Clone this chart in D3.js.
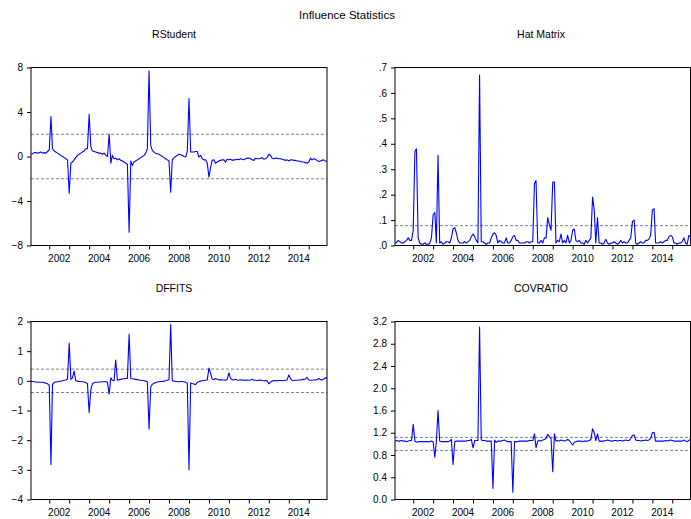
<!DOCTYPE html>
<html>
<head>
<meta charset="utf-8">
<script src="https://cdn.jsdelivr.net/npm/d3@7"></script>
<style>
  body { margin: 0; background: #fff; }
  svg { display: block; }
  text { font-family: "Liberation Sans", Arial, sans-serif; fill: #000; }
</style>
</head>
<body>
<svg id="chart" width="691" height="519"></svg>
<script>
// monthly observations, 2001M02 .. 2015M12 (179 obs), one year per row
var rstudent = [
  0.2, 0.25, 0.35, 0.35, 0.3, 0.35, 0.4, 0.3, 0.35, 0.3, 0.45,
  0.6, 3.6, 0.7, 0.5, 0.4, 0.3, 0.2, 0.1, 0.0, -0.1, -0.2, -0.3,
  -3.3, -0.6, -0.5, -0.3, -0.1, 0.1, 0.2, 0.3, 0.4, 0.5, 0.7, 0.7,
  3.8, 0.9, 0.5, 0.45, 0.4, 0.35, 0.3, 0.3, 0.2, 0.3, 0.1, 0.0,
  2.0, -0.6, 0.1, -0.2, -0.15, -0.3, -0.2, -0.35, -0.4, -0.5, -0.6, -0.7,
  -6.8, -0.4, -0.8, -0.5, -0.4, -0.3, -0.2, -0.1, 0.0, 0.1, 0.3, 0.7,
  7.7, 1.0, 0.55, 0.4, 0.3, 0.25, 0.2, 0.1, 0.0, -0.1, -0.2, -0.3,
  -0.4, -3.2, -0.3, -0.1, 0.0, 0.1, 0.2, 0.15, 0.1, 0.0, -0.05, 0.5,
  5.2, 0.4, 0.4, 0.4, 0.45, 0.45, -0.05, 0.1, -0.2, -0.3, -0.3, -0.6,
  -1.85, -0.95, -0.35, -0.3, -0.6, -0.5, -0.4, -0.35, -0.3, -0.3, -0.5, -0.25,
  -0.3, -0.25, -0.35, -0.3, -0.3, -0.25, -0.3, -0.2, -0.25, -0.3, -0.2, -0.15,
  -0.15, -0.2, -0.3, -0.35, -0.15, -0.2, -0.2, -0.15, -0.1, -0.25, -0.2, -0.1,
  0.2, 0.1, -0.15, -0.2, -0.15, -0.15, -0.2, -0.2, -0.25, -0.3, -0.35, -0.3,
  -0.4, -0.3, -0.3, -0.35, -0.35, -0.4, -0.4, -0.45, -0.5, -0.5, -0.55, -0.6,
  -0.5, -0.15, -0.3, -0.2, -0.25, -0.35, -0.45, -0.4, -0.35, -0.3, -0.4, -0.45
];

var hat = [
  0.01, 0.012, 0.02, 0.015, 0.01, 0.01, 0.015, 0.02, 0.03, 0.02, 0.02,
  0.06, 0.37, 0.38, 0.03, 0.01, 0.005, 0.005, 0.01, 0.005, 0.005, 0.01, 0.03,
  0.12, 0.13, 0.01, 0.355, 0.01, 0.015, 0.005, 0.01, 0.015, 0.015, 0.01, 0.03,
  0.065, 0.07, 0.05, 0.02, 0.01, 0.01, 0.01, 0.015, 0.01, 0.015, 0.02, 0.035,
  0.045, 0.035, 0.02, 0.01, 0.67, 0.015, 0.015, 0.01, 0.005, 0.01, 0.01, 0.03,
  0.045, 0.05, 0.04, 0.01, 0.02, 0.015, 0.01, 0.01, 0.03, 0.01, 0.01, 0.02,
  0.035, 0.04, 0.02, 0.02, 0.01, 0.01, 0.01, 0.01, 0.015, 0.015, 0.01, 0.015,
  0.015, 0.245, 0.255, 0.01, 0.01, 0.02, 0.01, 0.03, 0.03, 0.11, 0.08, 0.06,
  0.25, 0.25, 0.01, 0.02, 0.015, 0.045, 0.01, 0.02, 0.01, 0.04, 0.01, 0.02,
  0.06, 0.065, 0.02, 0.015, 0.02, 0.01, 0.01, 0.005, 0.02, 0.01, 0.02, 0.03,
  0.19, 0.14, 0.01, 0.11, 0.01, 0.01, 0.005, 0.01, 0.025, 0.01, 0.005, 0.01,
  0.01, 0.015, 0.01, 0.005, 0.01, 0.02, 0.01, 0.015, 0.01, 0.01, 0.02, 0.03,
  0.095, 0.1, 0.01, 0.005, 0.01, 0.015, 0.01, 0.01, 0.02, 0.02, 0.025, 0.04,
  0.14, 0.145, 0.01, 0.01, 0.01, 0.015, 0.01, 0.015, 0.02, 0.02, 0.035, 0.04,
  0.035, 0.01, 0.01, 0.005, 0.01, 0.01, 0.015, 0.03, 0.01, 0.005, 0.04, 0.035
];

var dffits = [
  -0.02, -0.02, -0.03, -0.04, -0.05, -0.05, -0.05, -0.05, -0.06, -0.08, -0.1,
  -0.15, -2.82, -0.12, -0.05, -0.04, -0.03, -0.02, -0.01, 0.0, 0.02, 0.03, 0.06,
  1.27, 0.05, 0.1, 0.33, 0.0, -0.01, -0.02, -0.02, -0.03, -0.04, -0.06, -0.1,
  -1.07, -0.3, -0.1, -0.06, -0.05, -0.05, -0.04, -0.04, -0.03, -0.03, -0.02, -0.05,
  -0.45, 0.1, 0.02, 0.0, 0.7, 0.02, 0.04, 0.05, 0.06, 0.07, 0.08, 0.08,
  1.58, 0.08, 0.07, 0.06, 0.05, 0.04, 0.03, 0.02, 0.01, 0.0, -0.01, -0.03,
  -1.62, -0.2, -0.12, -0.08, -0.06, -0.04, -0.03, -0.02, -0.02, -0.01, 0.0, 0.02,
  0.04, 1.9, 0.0, -0.01, -0.02, -0.02, -0.03, -0.02, -0.02, -0.03, -0.05, -0.08,
  -3.0, -0.07, -0.09, -0.11, -0.13, -0.05, -0.03, -0.01, 0.0, 0.01, 0.02, 0.03,
  0.43, 0.24, 0.06, 0.04, 0.08, 0.05, 0.03, 0.04, 0.03, 0.03, 0.02, 0.05,
  0.27, 0.08, 0.04, 0.03, 0.05, 0.03, 0.02, 0.04, 0.02, 0.03, 0.02, 0.03,
  0.02, 0.03, 0.05, 0.02, 0.02, 0.01, 0.02, 0.03, 0.01, 0.0, 0.01, 0.0,
  -0.1, -0.05, 0.0, 0.0, 0.01, 0.0, 0.01, 0.01, 0.0, 0.01, 0.02, 0.03,
  0.2, 0.08, 0.02, 0.01, 0.02, 0.02, 0.03, 0.03, 0.04, 0.05, 0.06, 0.12,
  0.03, 0.02, 0.02, 0.03, 0.03, 0.04, 0.08, 0.04, 0.03, 0.06, 0.1, 0.09
];

var covratio = [
  1.05, 1.06, 1.05, 1.05, 1.06, 1.05, 1.05, 1.04, 1.05, 1.06, 1.06,
  1.35, 1.05, 1.03, 1.04, 1.04, 1.04, 1.04, 1.04, 1.04, 1.04, 1.04, 1.05,
  1.04, 0.76, 1.04, 1.6, 1.05, 1.04, 1.04, 1.04, 1.04, 1.04, 1.05, 1.08,
  0.63, 1.04, 1.05, 1.05, 1.05, 1.05, 1.05, 1.05, 1.05, 1.06, 1.06, 1.08,
  0.93, 1.06, 1.06, 1.06, 3.1, 1.07, 1.06, 1.06, 1.05, 1.05, 1.05, 1.05,
  0.2, 1.07, 1.03, 1.05, 1.05, 1.05, 1.06, 1.07, 1.05, 1.04, 1.04, 1.04,
  0.13, 1.04, 1.04, 1.04, 1.05, 1.05, 1.05, 1.05, 1.05, 1.05, 1.06, 1.06,
  1.06, 1.18, 0.93, 1.05, 1.06, 1.05, 1.07, 1.08, 1.1, 1.17, 1.13, 1.1,
  0.5, 1.18, 1.05, 1.06, 1.05, 1.07, 1.06, 1.05, 1.06, 1.08, 1.06, 1.02,
  0.98, 1.03, 1.04, 1.05, 1.05, 1.05, 1.04, 1.05, 1.05, 1.05, 1.06, 1.08,
  1.27, 1.2, 1.06, 1.18, 1.05, 1.05, 1.05, 1.05, 1.06, 1.07, 1.06, 1.05,
  1.05, 1.06, 1.06, 1.05, 1.06, 1.06, 1.05, 1.06, 1.07, 1.06, 1.06, 1.1,
  1.15, 1.16, 1.07, 1.06, 1.06, 1.05, 1.06, 1.06, 1.07, 1.06, 1.07, 1.1,
  1.2, 1.21, 1.05, 1.05, 1.05, 1.05, 1.05, 1.05, 1.06, 1.05, 1.06, 1.07,
  1.06, 1.05, 1.05, 1.05, 1.05, 1.05, 1.05, 1.07, 1.05, 1.04, 1.06, 1.08
];

// cutoff lines
var rstudentRef = [2, -2];
var hatRef = [0.078];
var dffitsRef = [0.395, -0.395];
var covratioRef = [1.117, 0.883];

// y ticks
var rstudentTicks = [-8, -4, 0, 4, 8];
var hatTicks = [0, 0.1, 0.2, 0.3, 0.4, 0.5, 0.6, 0.7];
var dffitsTicks = [-4, -3, -2, -1, 0, 1, 2];
var covratioTicks = [0, 0.4, 0.8, 1.2, 1.6, 2.0, 2.4, 2.8, 3.2];

var yearLabels = [2002, 2004, 2006, 2008, 2010, 2012, 2014];

var months = d3.utcMonth.range(new Date(Date.UTC(2001, 1, 1)), new Date(Date.UTC(2016, 0, 1)));
var yearTicks = d3.utcYear.range(new Date(Date.UTC(2002, 0, 1)), new Date(Date.UTC(2016, 0, 1)));

var svg = d3.select("#chart");

svg.append("text")
    .attr("x", 347)
    .attr("y", 19)
    .attr("text-anchor", "middle")
    .style("font-size", "11.5px")
    .text("Influence Statistics");

function drawPanel(opts) {
    var x = d3.scaleUtc()
        .domain([months[0], months[months.length - 1]])
        .range([opts.x0, opts.x1]);
    var y = d3.scaleLinear()
        .domain(opts.domain)
        .range([opts.y1, opts.y0]);

    var g = svg.append("g");
    var clipId = "clip-" + opts.id;

    g.append("clipPath").attr("id", clipId)
      .append("rect")
        .attr("x", opts.x0).attr("y", opts.y0)
        .attr("width", opts.x1 - opts.x0).attr("height", opts.y1 - opts.y0);

    // title
    g.append("text")
        .attr("x", opts.titleX)
        .attr("y", opts.y0 - 29.5)
        .attr("text-anchor", "middle")
        .style("font-size", "10.5px")
        .text(opts.title);

    // y axis
    var yAxis = d3.axisLeft(y)
        .tickValues(opts.ticks)
        .tickSize(4)
        .tickPadding(4)
        .tickFormat(opts.format);
    var ya = g.append("g")
        .attr("transform", "translate(" + opts.x0 + ",0)")
        .call(yAxis);
    ya.select(".domain").remove();
    ya.selectAll("text").style("font-size", "10px").style("font-family", "Liberation Sans, Arial, sans-serif");

    // x axis: tick at each January, labels centred on the year
    var xAxis = d3.axisBottom(x)
        .tickValues(yearTicks)
        .tickSize(4)
        .tickFormat("");
    var xa = g.append("g")
        .attr("transform", "translate(0," + opts.y1 + ")")
        .call(xAxis);
    xa.select(".domain").remove();

    g.selectAll(".yearlab")
      .data(yearLabels)
      .enter().append("text")
        .attr("class", "yearlab")
        .attr("x", function(d) {
            return (x(new Date(Date.UTC(d, 0, 1))) + x(new Date(Date.UTC(d + 1, 0, 1)))) / 2;
        })
        .attr("y", opts.y1 + 16)
        .attr("text-anchor", "middle")
        .style("font-size", "10px")
        .text(function(d) { return d; });

    // cutoff lines
    g.selectAll(".ref")
      .data(opts.refs)
      .enter().append("line")
        .attr("x1", opts.x0).attr("x2", opts.x1)
        .attr("y1", function(d) { return y(d); })
        .attr("y2", function(d) { return y(d); })
        .attr("stroke", "#808080")
        .attr("stroke-width", 1)
        .attr("stroke-dasharray", "3,2");

    // series
    var line = d3.line()
        .x(function(d, i) { return x(months[i]); })
        .y(function(d) { return y(d); });

    g.append("path")
        .datum(opts.values)
        .attr("clip-path", "url(#" + clipId + ")")
        .attr("d", line)
        .attr("fill", "none")
        .attr("stroke", "#0000ff")
        .attr("stroke-width", 1.1)
        .attr("stroke-linejoin", "round");

    // frame
    g.append("rect")
        .attr("x", opts.x0).attr("y", opts.y0)
        .attr("width", opts.x1 - opts.x0).attr("height", opts.y1 - opts.y0)
        .attr("fill", "none")
        .attr("stroke", "#000")
        .attr("stroke-width", 1);
}

var fmtInt = function(d) { return d3.format("d")(d); };
var fmtHat = function(d) { return d3.format(".1f")(d).replace(/^0/, ""); };
var fmtCov = function(d) { return d3.format(".1f")(d); };

drawPanel({ id: "rs", title: "RStudent", titleX: 174, x0: 31, x1: 327, y0: 67.5, y1: 245.5,
            domain: [-8, 8], ticks: rstudentTicks, format: fmtInt, refs: rstudentRef, values: rstudent });
drawPanel({ id: "hat", title: "Hat Matrix", titleX: 541, x0: 395, x1: 690.5, y0: 67.5, y1: 245.5,
            domain: [0, 0.7], ticks: hatTicks, format: fmtHat, refs: hatRef, values: hat });
drawPanel({ id: "df", title: "DFFITS", titleX: 174, x0: 31, x1: 327, y0: 321.5, y1: 499.5,
            domain: [-4, 2], ticks: dffitsTicks, format: fmtInt, refs: dffitsRef, values: dffits });
drawPanel({ id: "cov", title: "COVRATIO", titleX: 541, x0: 395, x1: 690.5, y0: 321.5, y1: 499.5,
            domain: [0, 3.2], ticks: covratioTicks, format: fmtCov, refs: covratioRef, values: covratio });
</script>
</body>
</html>
